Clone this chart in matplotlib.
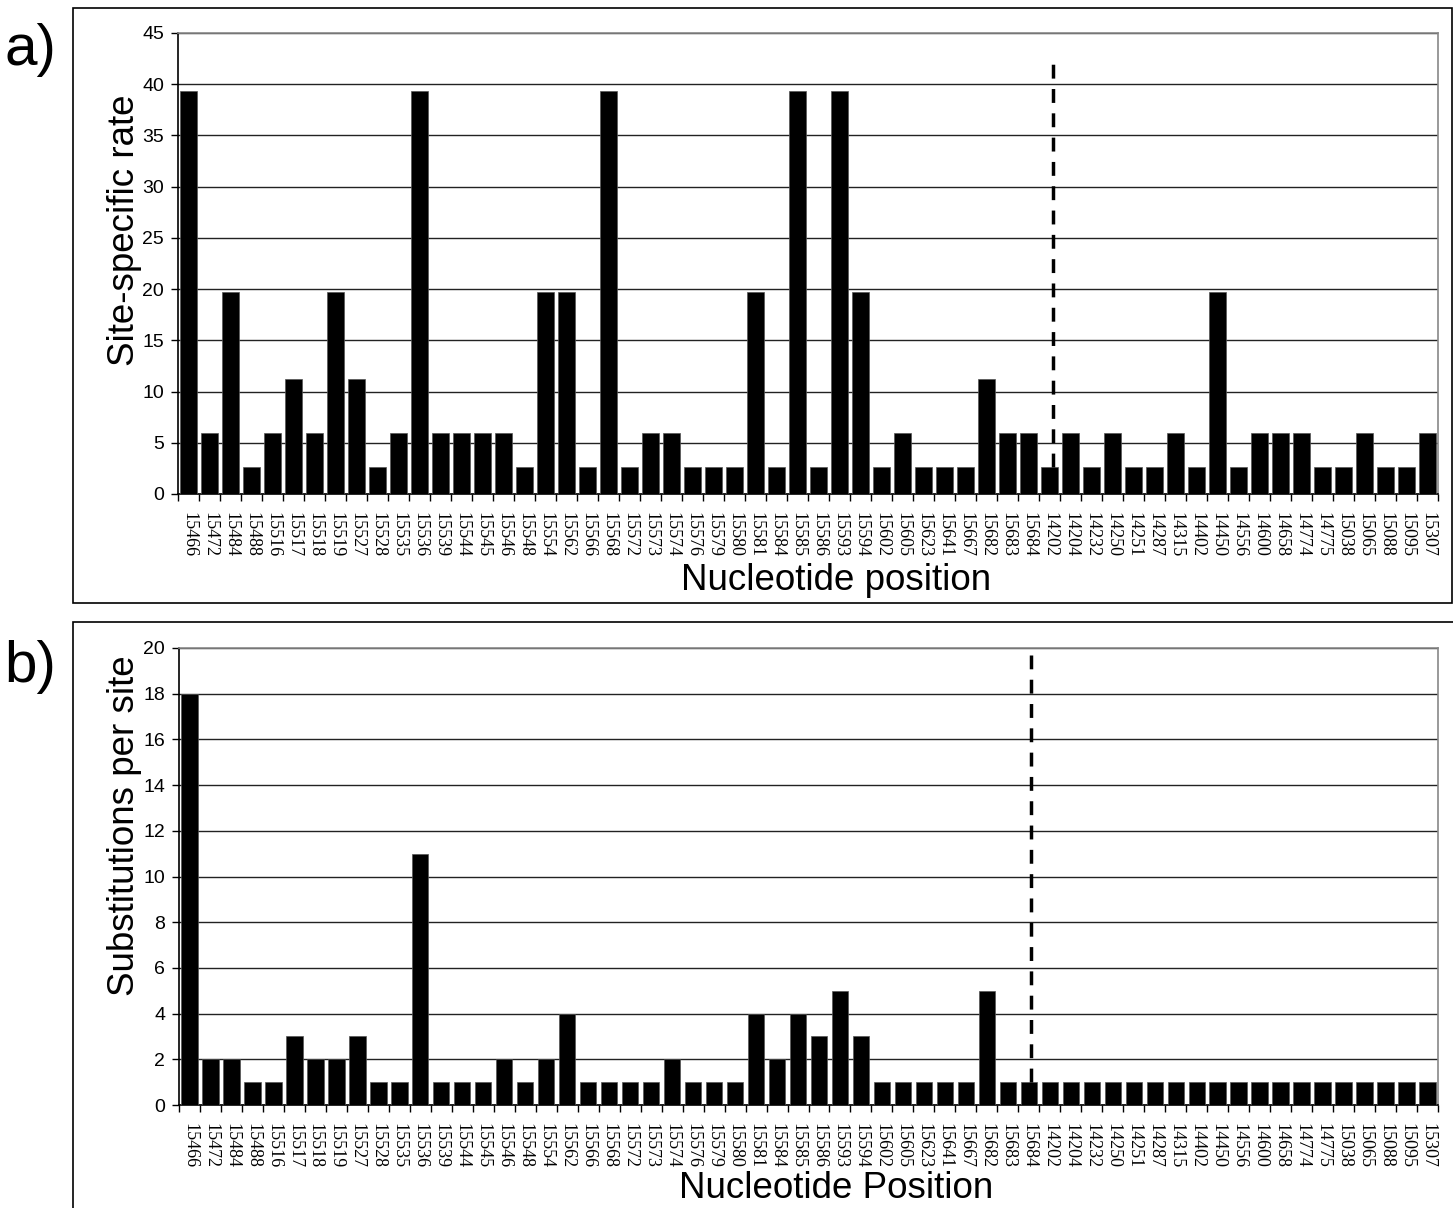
import matplotlib
matplotlib.use('Agg')
import matplotlib.pyplot as plt
from matplotlib.patches import Rectangle

plt.rcParams['lines.scale_dashes'] = False

positions = ['15466', '15472', '15484', '15488', '15516', '15517', '15518', '15519',
             '15527', '15528', '15535', '15536', '15539', '15544', '15545', '15546',
             '15548', '15554', '15562', '15566', '15568', '15572', '15573', '15574',
             '15576', '15579', '15580', '15581', '15584', '15585', '15586', '15593',
             '15594', '15602', '15605', '15623', '15641', '15667', '15682', '15683',
             '15684', '14202', '14204', '14232', '14250', '14251', '14287', '14315',
             '14402', '14450', '14556', '14600', '14658', '14774', '14775', '15038',
             '15065', '15088', '15095', '15307']

# a) site-specific rate
rate = [39.3, 6, 19.7, 2.6, 6, 11.2, 6, 19.7, 11.2, 2.6, 6, 39.3, 6, 6, 6, 6,
        2.6, 19.7, 19.7, 2.6, 39.3, 2.6, 6, 6, 2.6, 2.6, 2.6, 19.7, 2.6, 39.3,
        2.6, 39.3, 19.7, 2.6, 6, 2.6, 2.6, 2.6, 11.2, 6, 6, 2.6, 6, 2.6, 6, 2.6,
        2.6, 6, 2.6, 19.7, 2.6, 6, 6, 6, 2.6, 2.6, 6, 2.6, 2.6, 6]

# b) substitutions per site
subs = [18, 2, 2, 1, 1, 3, 2, 2, 3, 1, 1, 11, 1, 1, 1, 2, 1, 2, 4, 1, 1, 1, 1,
        2, 1, 1, 1, 4, 2, 4, 3, 5, 3, 1, 1, 1, 1, 1, 5, 1, 1, 1, 1, 1, 1, 1, 1,
        1, 1, 1, 1, 1, 1, 1, 1, 1, 1, 1, 1, 1]

# dashed divider: x position (category index) and vertical extent
divider_a = (41.15, 2.6, 42.6)
divider_b = (40.1, 1, 19.7)

W, H = 1453, 1208
fig = plt.figure(figsize=(W / 100, H / 100), dpi=100)


def px_axes(x0, y0, x1, y1):
    return fig.add_axes([x0 / W, 1 - y1 / H, (x1 - x0) / W, (y1 - y0) / H])


def draw_panel(ax, vals, ymax, ystep, divider):
    x = list(range(len(vals)))
    ax.bar(x, vals, width=0.78, color='black', edgecolor='#555555', linewidth=0.5, zorder=3)
    ax.set_xlim(-0.5, len(vals) - 0.5)
    ax.set_ylim(0, ymax)
    ax.set_yticks(range(0, ymax + 1, ystep))
    ax.yaxis.grid(True, color='#222222', linewidth=1.0, zorder=0)
    ax.set_axisbelow(True)
    # ticks at category boundaries, labels at centres
    ax.set_xticks([i - 0.5 for i in range(len(vals) + 1)])
    ax.set_xticklabels([])
    ax.set_xticks(x, minor=True)
    ax.set_xticklabels(positions, minor=True, rotation=-90, family='Liberation Serif',
                       fontsize=13)
    ax.tick_params(axis='x', which='minor', length=0, pad=13)
    ax.tick_params(axis='x', which='major', length=5, direction='out', width=1)
    ax.tick_params(axis='y', length=5, direction='out', width=1, pad=5, labelsize=14)
    for lab in ax.get_yticklabels():
        lab.set_family('Liberation Sans')
    for side in ['top', 'right']:
        ax.spines[side].set_color('#888888')
        ax.spines[side].set_linewidth(1.2)
    for side in ['left', 'bottom']:
        ax.spines[side].set_color('black')
        ax.spines[side].set_linewidth(1.2)
    dx, y0, y1 = divider
    ax.plot([dx, dx], [y0, y1], color='black', linewidth=2.5, dashes=(10, 7.5), zorder=4)


# panel frames
fig.add_artist(Rectangle((73 / W, 1 - 603 / H), (1452 - 73) / W, (603 - 8) / H,
                         transform=fig.transFigure, fill=False, edgecolor='black', linewidth=1.2))
fig.add_artist(Rectangle((73 / W, -0.01), 1.0, 1 - 622 / H + 0.01,
                         transform=fig.transFigure, fill=False, edgecolor='black', linewidth=1.2))

ax1 = px_axes(178, 33, 1438, 494)
draw_panel(ax1, rate, 45, 5, divider_a)

ax2 = px_axes(179, 648, 1438, 1105)
draw_panel(ax2, subs, 20, 2, divider_b)

sans = 'Liberation Sans'
fig.text(30 / W, 1 - 50 / H, 'a)', fontsize=42, family=sans, ha='center', va='center')
fig.text(30 / W, 1 - 667 / H, 'b)', fontsize=42, family=sans, ha='center', va='center')
fig.text(124 / W, 1 - 230 / H, 'Site-specific rate', fontsize=26.5, family=sans,
         rotation=90, ha='center', va='center')
fig.text(124 / W, 1 - 826 / H, 'Substitutions per site', fontsize=26.5, family=sans,
         rotation=90, ha='center', va='center')
fig.text(836 / W, 1 - 580 / H, 'Nucleotide position', fontsize=26.5, family=sans,
         ha='center', va='center')
fig.text(836 / W, 1 - 1188 / H, 'Nucleotide Position', fontsize=26.5, family=sans,
         ha='center', va='center')

fig.savefig('out.png', dpi=100)
